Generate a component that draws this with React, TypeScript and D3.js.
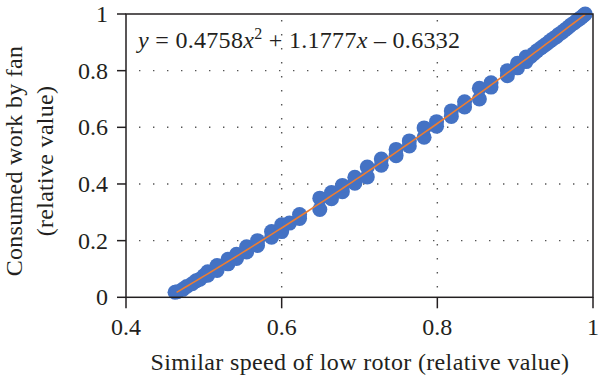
import React from "react";
import * as d3 from "d3";

const xTicks = [0.4, 0.6, 0.8, 1];
const yTicks = [0, 0.2, 0.4, 0.6, 0.8, 1];
const xGrid = [0.6, 0.8];
const yGrid = [0.2, 0.4, 0.6, 0.8];
const fitCoef = [0.4758, 1.1777, -0.6332];
const fitRange = [0.465, 0.99];

const speedX = [
  0.463, 0.466, 0.473, 0.478, 0.485, 0.49, 0.495, 0.5, 0.505, 0.505,
  0.517, 0.517, 0.531, 0.531, 0.542, 0.542, 0.555, 0.555, 0.569, 0.569,
  0.587, 0.587, 0.6, 0.6, 0.61, 0.623, 0.623, 0.649, 0.649, 0.664,
  0.664, 0.678, 0.678, 0.694, 0.694, 0.71, 0.71, 0.728, 0.728, 0.747,
  0.747, 0.764, 0.764, 0.783, 0.783, 0.799, 0.799, 0.818, 0.818, 0.835,
  0.835, 0.854, 0.854, 0.869, 0.869, 0.89, 0.89, 0.903, 0.903, 0.914,
  0.914, 0.92, 0.924, 0.928, 0.933, 0.937, 0.941, 0.945, 0.949, 0.953,
  0.956, 0.96, 0.963, 0.966, 0.969, 0.972, 0.976, 0.979, 0.982, 0.985,
  0.988, 0.99,
];
const workY = [
  0.018, 0.02, 0.028, 0.038, 0.048, 0.058, 0.064, 0.076, 0.078, 0.09,
  0.095, 0.112, 0.118, 0.134, 0.137, 0.152, 0.16, 0.178, 0.183, 0.2,
  0.212, 0.232, 0.232, 0.256, 0.262, 0.278, 0.292, 0.31, 0.35, 0.348,
  0.37, 0.373, 0.395, 0.403, 0.424, 0.425, 0.46, 0.466, 0.488, 0.5,
  0.522, 0.534, 0.552, 0.565, 0.598, 0.604, 0.62, 0.638, 0.658, 0.672,
  0.69, 0.7, 0.738, 0.742, 0.757, 0.782, 0.8, 0.81, 0.826, 0.832,
  0.848, 0.85, 0.86, 0.87, 0.88, 0.888, 0.896, 0.905, 0.913, 0.92,
  0.928, 0.935, 0.942, 0.948, 0.955, 0.962, 0.969, 0.976, 0.982, 0.988,
  0.995, 1.0,
];

const W = 600;
const H = 382;
const M = { left: 126, right: 593, top: 14, bottom: 297.3 };
const INK = "#231f20";
const FONT = "Liberation Serif";

export default function App() {
  const x = d3.scaleLinear().domain([0.4, 1]).range([M.left, M.right]);
  const y = d3.scaleLinear().domain([0, 1]).range([M.bottom, M.top]);
  const fit = (v: number) => fitCoef[0] * v * v + fitCoef[1] * v + fitCoef[2];
  const fitXs = d3.range(fitRange[0], fitRange[1] + 1e-9, 0.005);
  const line = d3
    .line<number>()
    .x((d) => x(d))
    .y((d) => y(fit(d)));

  return (
    <svg
      width={W}
      height={H}
      style={{ position: "absolute", left: 0, top: 0, background: "#fff", fontFamily: FONT }}
    >
      {/* grid */}
      {xGrid.map((g) => (
        <line
          key={"gx" + g}
          x1={x(g)}
          x2={x(g)}
          y1={y(1) + 6}
          y2={y(0)}
          stroke="#555"
          strokeWidth={1.4}
          strokeDasharray="1.4 12.6"
        />
      ))}
      {yGrid.map((g) => (
        <line
          key={"gy" + g}
          x1={x(0.4) + 13}
          x2={x(1)}
          y1={y(g)}
          y2={y(g)}
          stroke="#555"
          strokeWidth={1.4}
          strokeDasharray="1.4 12.6"
        />
      ))}
      {/* points */}
      {speedX.map((sx, i) => (
        <circle key={"p" + i} cx={x(sx)} cy={y(workY[i])} r={7.5} fill="#4472c4" />
      ))}
      {/* fit line */}
      <path d={line(fitXs) || ""} fill="none" stroke="#ed7d31" strokeWidth={1.6} />
      {/* frame */}
      <rect
        x={M.left}
        y={M.top}
        width={M.right - M.left}
        height={M.bottom - M.top}
        fill="none"
        stroke={INK}
        strokeWidth={1.5}
      />
      {/* y ticks */}
      {yTicks.map((t) => (
        <g key={"yt" + t}>
          <line x1={M.left - 9} x2={M.left} y1={y(t)} y2={y(t)} stroke={INK} strokeWidth={1.5} />
          <text x={108} y={y(t) + 8} textAnchor="end" fontSize={24} fill={INK}>
            {t === 0 || t === 1 ? String(t) : t.toFixed(1)}
          </text>
        </g>
      ))}
      {/* x ticks */}
      {xTicks.map((t) => (
        <g key={"xt" + t}>
          <line x1={x(t)} x2={x(t)} y1={M.bottom} y2={M.bottom + 11} stroke={INK} strokeWidth={1.5} />
          <text x={x(t)} y={335} textAnchor="middle" fontSize={24} fill={INK}>
            {t === 1 ? "1" : t.toFixed(1)}
          </text>
        </g>
      ))}
      {/* axis titles */}
      <text x={360} y={370} textAnchor="middle" fontSize={24} letterSpacing={0.35} fill={INK}>
        Similar speed of low rotor (relative value)
      </text>
      <g transform="translate(22,161) rotate(-90)">
        <text x={0} y={0} textAnchor="middle" fontSize={24} letterSpacing={0.3} fill={INK}>
          Consumed work by fan
        </text>
        <text x={0} y={31} textAnchor="middle" fontSize={24} letterSpacing={0.3} fill={INK}>
          (relative value)
        </text>
      </g>
      {/* equation */}
      <text x={138} y={48} fontSize={24} letterSpacing={0.3} fill={INK}>
        <tspan fontStyle="italic">y</tspan>
        <tspan> = 0.4758</tspan>
        <tspan fontStyle="italic">x</tspan>
        <tspan dy={-9} fontSize={16}>2</tspan>
        <tspan dy={9}> + 1.1777</tspan>
        <tspan fontStyle="italic">x</tspan>
        <tspan> – 0.6332</tspan>
      </text>
    </svg>
  );
}
